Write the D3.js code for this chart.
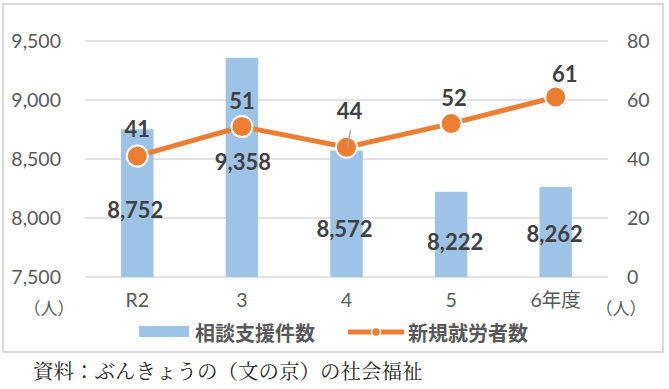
<!DOCTYPE html>
<html>
<head>
<meta charset="utf-8">
<script src="https://cdn.jsdelivr.net/npm/d3@7"></script>
<style>
  body { margin: 0; background: #fff; }
  svg { display: block; font-family: Lato, "Noto Sans CJK JP", sans-serif; }
</style>
</head>
<body>
<svg id="chart" width="669" height="389"></svg>
<script>
// data
var years = ["R2", "3", "4", "5", "6年度"]
var consultations = [8752, 9358, 8572, 8222, 8262]   // 相談支援件数
var newJobs = [41, 51, 44, 52, 61]                   // 新規就労者数
var leftTicks = [7500, 8000, 8500, 9000, 9500]
var rightTicks = [0, 20, 40, 60, 80]

// label nudges (px) -- Excel labels were dragged around by hand
var barLabelNudge = [[-2, 6], [1, -6], [-2, 15], [4, 7], [-1, 1]]
var lineLabelNudge = [[0, -28], [0, -26], [3, -37], [3, -26], [9, -24]]

var svg = d3.select("#chart")
var margin = { left: 85, right: 61, top: 41, bottom: 112 }
var W = 669, H = 389
var plotW = W - margin.left - margin.right
var plotH = H - margin.top - margin.bottom

var blue = "#9dc3e6", orange = "#ed7d31", grid = "#d9d9d9"
var axisText = "#595959", labelText = "#404040"

// outer frame
svg.append("rect")
  .attr("x", 3).attr("y", 4)
  .attr("width", 660).attr("height", 348)
  .attr("fill", "none")
  .attr("stroke", grid)
  .attr("stroke-width", 2)

var g = svg.append("g")
  .attr("transform", "translate(" + margin.left + "," + margin.top + ")")

var x = d3.scaleBand()
  .domain(years)
  .range([0, plotW])
  .paddingInner(0.69)
  .paddingOuter(0.345)

var yL = d3.scaleLinear().domain([7500, 9500]).range([plotH, 0])
var yR = d3.scaleLinear().domain([0, 80]).range([plotH, 0])

// grid lines
g.append("g")
  .selectAll("line")
  .data(leftTicks)
  .enter()
  .append("line")
  .attr("x1", 0).attr("x2", plotW)
  .attr("y1", d => yL(d)).attr("y2", d => yL(d))
  .attr("stroke", grid)
  .attr("stroke-width", 1.5)

// left axis
var leftAxis = g.append("g")
  .call(d3.axisLeft(yL).tickValues(leftTicks).tickFormat(d3.format(",")).tickSize(0).tickPadding(24))
leftAxis.select(".domain").remove()
leftAxis.selectAll("text")
  .attr("fill", axisText)
  .style("font-size", "19.5px")
  .style("font-family", "Lato, sans-serif")

// right axis
var rightAxis = g.append("g")
  .attr("transform", "translate(" + plotW + ",0)")
  .call(d3.axisRight(yR).tickValues(rightTicks).tickSize(0).tickPadding(19))
rightAxis.select(".domain").remove()
rightAxis.selectAll("text")
  .attr("fill", axisText)
  .style("font-size", "19.5px")
  .style("font-family", "Lato, sans-serif")

// bottom axis (category labels)
var bottomAxis = g.append("g")
  .attr("transform", "translate(0," + plotH + ")")
  .call(d3.axisBottom(x).tickSize(0).tickPadding(16))
bottomAxis.select(".domain").remove()
bottomAxis.selectAll("text")
  .attr("fill", axisText)
  .style("font-size", "19.5px")
  .style("font-family", "Lato, 'Noto Sans CJK JP', sans-serif")

// unit labels
svg.append("text")
  .attr("x", 49).attr("y", 315)
  .attr("text-anchor", "middle")
  .attr("fill", axisText)
  .style("font-size", "17px")
  .style("font-family", "'Noto Sans CJK JP', sans-serif")
  .text("（人）")
svg.append("text")
  .attr("x", 621).attr("y", 315)
  .attr("text-anchor", "middle")
  .attr("fill", axisText)
  .style("font-size", "17px")
  .style("font-family", "'Noto Sans CJK JP', sans-serif")
  .text("（人）")

// bars
g.append("g")
  .selectAll("rect")
  .data(consultations)
  .enter()
  .append("rect")
  .attr("x", (d, i) => x(years[i]))
  .attr("y", d => yL(d))
  .attr("width", x.bandwidth())
  .attr("height", d => plotH - yL(d))
  .attr("fill", blue)

// line
var cx = (d, i) => x(years[i]) + x.bandwidth() / 2
var line = d3.line()
  .x(cx)
  .y(d => yR(d))

g.append("path")
  .datum(newJobs)
  .attr("d", line)
  .attr("fill", "none")
  .attr("stroke", orange)
  .attr("stroke-width", 5)

g.append("g")
  .selectAll("circle")
  .data(newJobs)
  .enter()
  .append("circle")
  .attr("cx", cx)
  .attr("cy", d => yR(d))
  .attr("r", 10.5)
  .attr("fill", orange)
  .attr("stroke", "#fff")
  .attr("stroke-width", 2)

// leader line for "44"
g.append("line")
  .attr("x1", cx(newJobs[2], 2) + 4).attr("y1", yR(newJobs[2]) - 17)
  .attr("x2", cx(newJobs[2], 2) + 1).attr("y2", yR(newJobs[2]))
  .attr("stroke", "#a6a6a6")
  .attr("stroke-width", 1.5)

// bar value labels
g.append("g")
  .selectAll("text")
  .data(consultations)
  .enter()
  .append("text")
  .attr("x", (d, i) => cx(d, i) + barLabelNudge[i][0])
  .attr("y", d => (yL(d) + plotH) / 2)
  .attr("dy", (d, i) => barLabelNudge[i][1])
  .attr("dominant-baseline", "central")
  .attr("text-anchor", "middle")
  .attr("fill", labelText)
  .style("font-size", "22px")
  .style("font-weight", "bold")
  .text(d => d3.format(",")(d))

// line value labels
g.append("g")
  .selectAll("text")
  .data(newJobs)
  .enter()
  .append("text")
  .attr("x", (d, i) => cx(d, i) + lineLabelNudge[i][0])
  .attr("y", d => yR(d))
  .attr("dy", (d, i) => lineLabelNudge[i][1])
  .attr("dominant-baseline", "central")
  .attr("text-anchor", "middle")
  .attr("fill", labelText)
  .style("font-size", "22px")
  .style("font-weight", "bold")
  .text(d => d)

// legend
var legend = svg.append("g")
  .style("font-family", "'Noto Sans CJK JP', sans-serif")
legend.append("rect")
  .attr("x", 139).attr("y", 326)
  .attr("width", 50).attr("height", 11)
  .attr("fill", blue)
legend.append("text")
  .attr("x", 195).attr("y", 332)
  .attr("dominant-baseline", "central")
  .attr("fill", axisText)
  .style("font-size", "20px")
  .style("font-weight", "bold")
  .text("相談支援件数")
legend.append("line")
  .attr("x1", 348).attr("x2", 404)
  .attr("y1", 332).attr("y2", 332)
  .attr("stroke", orange)
  .attr("stroke-width", 5)
legend.append("circle")
  .attr("cx", 376).attr("cy", 332)
  .attr("r", 4.5)
  .attr("fill", orange)
  .attr("stroke", "#fff")
  .attr("stroke-width", 1.5)
legend.append("text")
  .attr("x", 408).attr("y", 332)
  .attr("dominant-baseline", "central")
  .attr("fill", axisText)
  .style("font-size", "20px")
  .style("font-weight", "bold")
  .text("新規就労者数")

// source note
svg.append("text")
  .attr("x", 33).attr("y", 370)
  .attr("dominant-baseline", "central")
  .attr("fill", "#262626")
  .style("font-family", "'Noto Serif CJK JP', 'Noto Sans CJK JP', serif")
  .style("font-size", "20.5px")
  .text("資料：ぶんきょうの（文の京）の社会福祉")
</script>
</body>
</html>
